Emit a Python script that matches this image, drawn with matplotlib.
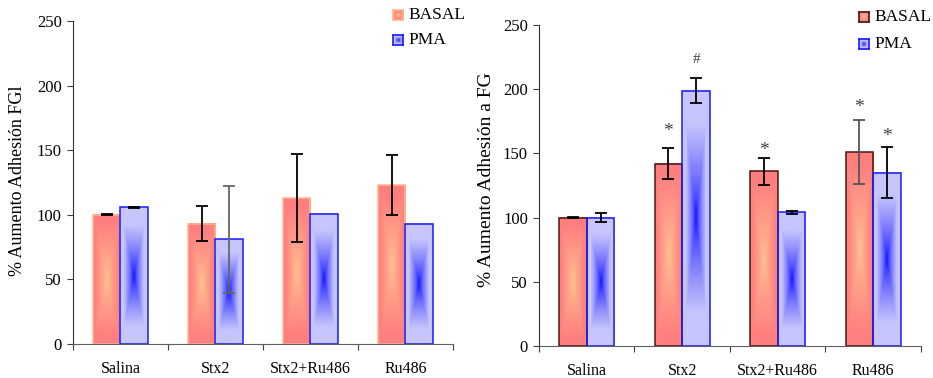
import numpy as np
import matplotlib
matplotlib.use("Agg")
import matplotlib.pyplot as plt

plt.rcParams['font.family'] = ['Liberation Serif', 'DejaVu Serif']

# datos
categorias = ["Salina", "Stx2", "Stx2+Ru486", "Ru486"]

# panel izquierdo
basal_izq = [100, 93, 113, 123]
basal_izq_err = [0.4, 13.5, 34, 23.5]
pma_izq = [106, 81, 101, 93]
pma_izq_err = [0.4, 41.5, 0, 0]

# panel derecho
basal_der = [100, 142, 136, 151]
basal_der_err = [0.3, 12, 10.5, 25]
pma_der = [100, 199, 104, 135]
pma_der_err = [3.5, 10, 1, 20]

# marcas de significancia (serie, categoria, texto, y)
marcas_der = [
    ("basal", 1, "*", 167),
    ("pma", 1, "#", 223),
    ("basal", 2, "*", 152),
    ("basal", 3, "*", 186),
    ("pma", 3, "*", 163),
]

ancho = 0.29
c_basal = (np.array([255, 198, 148]) / 255, np.array([255, 126, 126]) / 255)
c_pma = (np.array([10, 10, 255]) / 255, np.array([198, 198, 252]) / 255)


def gradiente(c_centro, c_borde, corte, pot, nx=40, ny=200):
    # degradado "desde el centro" tipo Excel
    u = np.abs(np.linspace(-1, 1, nx))
    v = np.abs(np.linspace(-1, 1, ny))
    t = np.maximum(u[None, :], v[:, None])
    s = (np.clip(t / corte, 0, 1) ** pot)[..., None]
    return c_centro + (c_borde - c_centro) * s


def rellenar(ax, barras, colores, corte, pot):
    img = gradiente(colores[0], colores[1], corte, pot)
    for p in barras.patches:
        x0 = p.get_x()
        h = p.get_height()
        ax.imshow(img, extent=(x0, x0 + p.get_width(), 0, h), aspect='auto',
                  interpolation='bilinear', zorder=1)


def leyenda(fig, x, y, colores, corte, pot, borde, texto):
    # x, y en pixeles desde arriba a la izquierda
    W, H = 933, 378
    la = fig.add_axes([x / W, 1 - (y + 5) / H, 10 / W, 10 / H])
    la.imshow(gradiente(colores[0], colores[1], corte, pot, 20, 20), aspect='auto',
              interpolation='bilinear', extent=(0, 1, 0, 1))
    la.set_xticks([])
    la.set_yticks([])
    for s in la.spines.values():
        s.set_color(borde)
        s.set_linewidth(1.2)
    fig.text((x + 15) / W, 1 - y / H, texto, fontsize=12.5, va='center', ha='left')


def panel(ax, basal, basal_err, pma, pma_err, borde_basal, col_err):
    x = np.arange(len(categorias)) + 0.5
    b1 = ax.bar(x - ancho / 2, basal, ancho, facecolor='none', edgecolor=borde_basal,
                linewidth=1.1, zorder=2)
    b2 = ax.bar(x + ancho / 2, pma, ancho, facecolor='none', edgecolor='#1a1aff',
                linewidth=1.1, zorder=2)
    rellenar(ax, b1, c_basal, 0.9, 0.75)
    rellenar(ax, b2, c_pma, 0.75, 0.7)
    for i in range(len(categorias)):
        if basal_err[i] > 0:
            ax.errorbar(x[i] - ancho / 2, basal[i], yerr=basal_err[i], fmt='none',
                        ecolor=col_err[0][i], elinewidth=1.3, capsize=4, capthick=1.3, zorder=3)
        if pma_err[i] > 0:
            ax.errorbar(x[i] + ancho / 2, pma[i], yerr=pma_err[i], fmt='none',
                        ecolor=col_err[1][i], elinewidth=1.3, capsize=4, capthick=1.3, zorder=3)
    ax.set_xlim(0, len(categorias))
    ax.set_ylim(0, 250)
    ax.set_yticks(range(0, 251, 50))
    ax.set_xticks(range(len(categorias) + 1))
    ax.set_xticklabels([])
    ax.set_xticks(x, minor=True)
    ax.set_xticklabels(categorias, minor=True)
    ax.tick_params(axis='x', which='minor', length=0, pad=12, labelsize=11.5)
    ax.tick_params(axis='x', which='major', length=4, direction='out', color='#404040')
    ax.tick_params(axis='y', length=4, direction='out', pad=4, labelsize=12, color='#404040')
    for s in ['top', 'right']:
        ax.spines[s].set_visible(False)
    ax.spines['left'].set_color('#303030')
    ax.spines['bottom'].set_color('#606060')
    return x


fig = plt.figure(figsize=(9.33, 3.78), dpi=100)

ax1 = fig.add_axes([0.0782, 0.0899, 0.4073, 0.8545])
err_izq = (['k', 'k', 'k', 'k'], ['k', '#666666', 'k', 'k'])
panel(ax1, basal_izq, basal_izq_err, pma_izq, pma_izq_err, '#ffb890', err_izq)
ax1.set_ylabel("% Aumento Adhesión FGl", fontsize=13)
ax1.yaxis.set_label_coords(-0.124, 0.505)

ax2 = fig.add_axes([0.5777, 0.0847, 0.4094, 0.849])
err_der = (['k', 'k', 'k', '#555555'], ['k', 'k', 'k', 'k'])
xs = panel(ax2, basal_der, basal_der_err, pma_der, pma_der_err, '#4a1414', err_der)
ax2.set_ylabel("% Aumento Adhesión a FG", fontsize=14)
ax2.yaxis.set_label_coords(-0.115, 0.519)
for serie, i, txt, y in marcas_der:
    xm = xs[i] - ancho / 2 if serie == "basal" else xs[i] + ancho / 2
    ax2.text(xm, y, txt, ha='center', va='center', fontsize=14 if txt == "*" else 11,
             color='#404040', zorder=4)

leyenda(fig, 393, 15, c_basal, 0.9, 0.75, '#ffb890', "BASAL")
leyenda(fig, 393, 40, c_pma, 0.75, 0.7, '#1a1aff', "PMA")
leyenda(fig, 859, 17, c_basal, 0.9, 0.75, '#4a1414', "BASAL")
leyenda(fig, 859, 44, c_pma, 0.75, 0.7, '#1a1aff', "PMA")

fig.savefig("out.png", dpi=100)
